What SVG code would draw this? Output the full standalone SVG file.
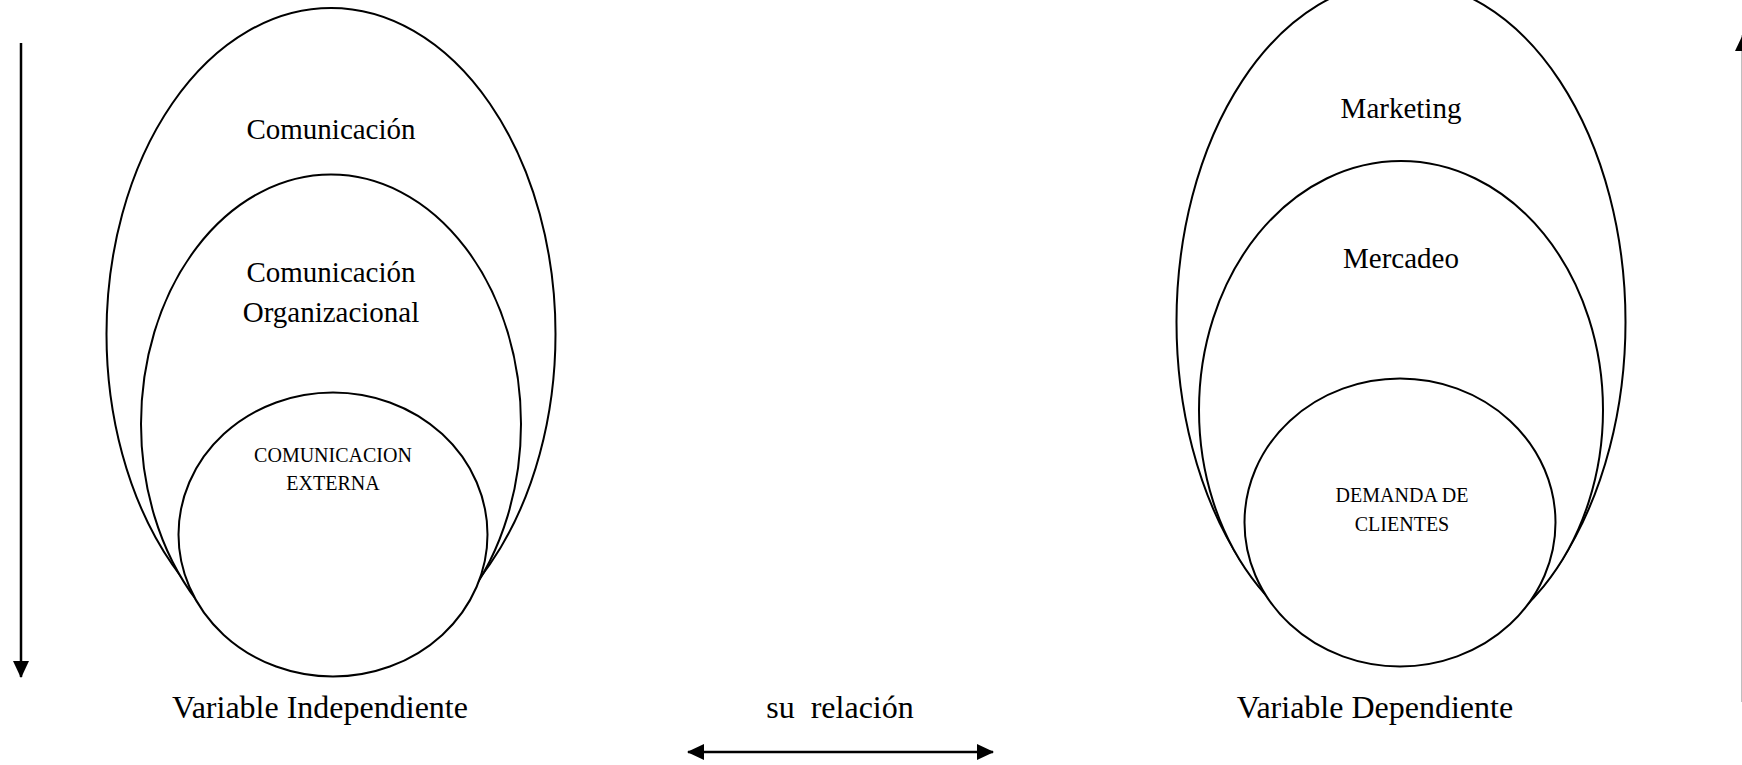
<svg xmlns="http://www.w3.org/2000/svg" width="1742" height="765" viewBox="0 0 1742 765">
<style>
.e{fill:#fff;stroke:#000;stroke-width:2}
.t{font-family:"Liberation Serif","Times New Roman",serif;fill:#000;text-anchor:middle}
.big{font-size:29px}
.lab{font-size:32px}
.sm{font-size:20px}
.c{stroke:#000;stroke-width:2.5;fill:none}
</style>
<defs>
<marker id="ah" markerUnits="userSpaceOnUse" markerWidth="18" markerHeight="18" viewBox="0 0 18 18" refX="16" refY="9" orient="auto-start-reverse">
<path d="M0,1 L17,9 L0,17 Z" fill="#000"/>
</marker>
</defs>
<g id="comunicacion">
<ellipse class="e" cx="331" cy="334" rx="224.5" ry="326"/>
<text class="t big" x="331" y="139">Comunicación</text>
</g>
<g id="comunicacion-organizacional">
<ellipse class="e" cx="331" cy="424" rx="190" ry="249.5"/>
<text class="t big" x="331" y="282">Comunicación</text>
<text class="t big" x="331" y="322">Organizacional</text>
</g>
<g id="comunicacion-externa">
<ellipse class="e" cx="333" cy="534.5" rx="154.5" ry="142"/>
<text class="t sm" x="333" y="462">COMUNICACION</text>
<text class="t sm" x="333" y="490">EXTERNA</text>
</g>
<g id="marketing">
<ellipse class="e" cx="1401" cy="322" rx="224.5" ry="341"/>
<text class="t big" x="1401" y="118">Marketing</text>
</g>
<g id="mercadeo">
<ellipse class="e" cx="1401" cy="410" rx="202" ry="249"/>
<text class="t big" x="1401" y="268">Mercadeo</text>
</g>
<g id="demanda-de-clientes">
<ellipse class="e" cx="1400" cy="522.5" rx="155.5" ry="144"/>
<text class="t sm" x="1402" y="502">DEMANDA DE</text>
<text class="t sm" x="1402" y="531">CLIENTES</text>
</g>
<g id="labels">
<text class="t lab" x="320" y="718">Variable Independiente</text>
<text class="t lab" x="840" y="718" xml:space="preserve">su  relación</text>
<text class="t lab" x="1375" y="718">Variable Dependiente</text>
</g>
<g id="connectors">
<line class="c" x1="21" y1="43" x2="21" y2="677" marker-end="url(#ah)"/>
<line class="c" x1="688" y1="752" x2="993" y2="752" marker-start="url(#ah)" marker-end="url(#ah)"/>
<line class="c" x1="1743" y1="702" x2="1743" y2="35" marker-end="url(#ah)"/>
</g>
</svg>
